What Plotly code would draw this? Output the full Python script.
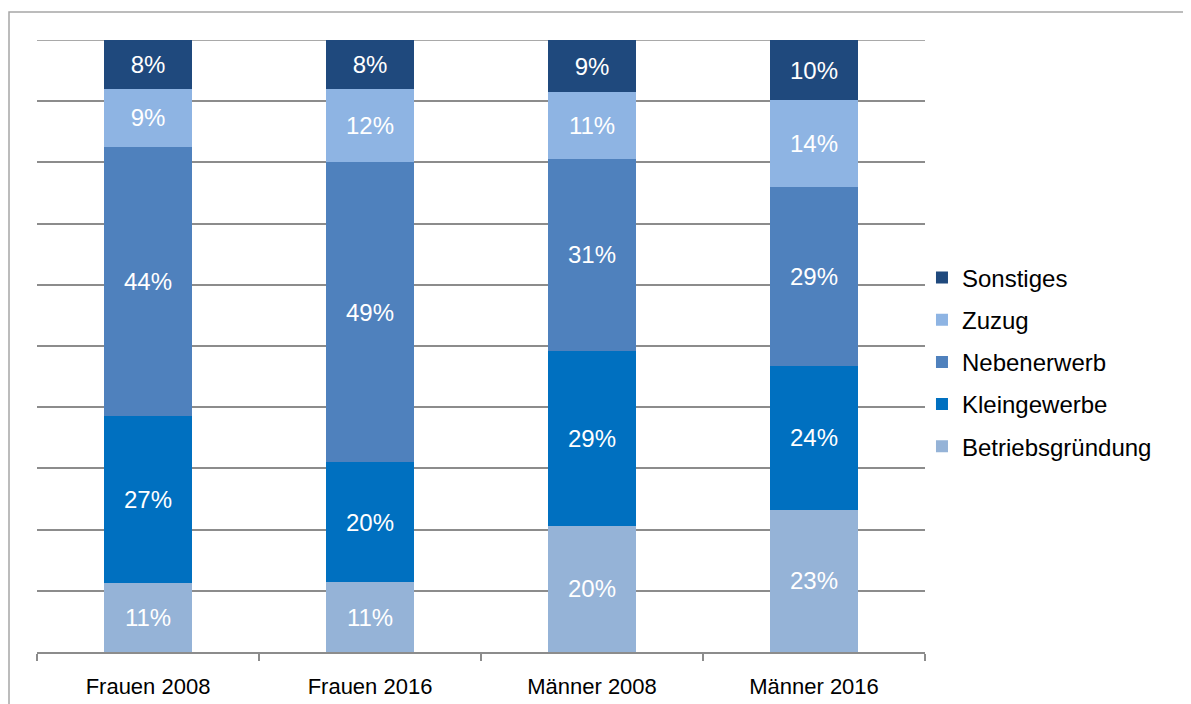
import plotly.graph_objects as go

categories = ["Frauen 2008", "Frauen 2016", "Männer 2008", "Männer 2016"]
series_names = ["Betriebsgründung", "Kleingewerbe", "Nebenerwerb", "Zuzug", "Sonstiges"]

# segment shares (percent)
betriebsgruendung = [11.3, 11.4, 20.6, 23.2]
kleingewerbe = [27.3, 19.6, 28.6, 23.5]
nebenerwerb = [44.0, 49.0, 31.4, 29.2]
zuzug = [9.5, 11.9, 10.9, 14.2]
sonstiges = [8.0, 8.0, 8.5, 9.8]

# printed data labels
labels_betrieb = ["11%", "11%", "20%", "23%"]
labels_klein = ["27%", "20%", "29%", "24%"]
labels_neben = ["44%", "49%", "31%", "29%"]
labels_zuzug = ["9%", "12%", "11%", "14%"]
labels_sonst = ["8%", "8%", "9%", "10%"]

colors = ["#95B3D7", "#0070C0", "#4F81BD", "#8EB4E3", "#1F497D"]

values = [betriebsgruendung, kleingewerbe, nebenerwerb, zuzug, sonstiges]
labels = [labels_betrieb, labels_klein, labels_neben, labels_zuzug, labels_sonst]

FONT = "Liberation Sans, Arial, sans-serif"

fig = go.Figure()
n = len(series_names)
for i, (name, vals, txt, col) in enumerate(zip(series_names, values, labels, colors)):
    fig.add_trace(go.Bar(
        name=name, legendgroup=name, legendrank=1000 + (n - i),
        x=categories, y=vals, text=txt,
        marker=dict(color=col, line=dict(width=0)),
        textposition="inside", insidetextanchor="middle", textangle=0,
        constraintext="none",
        textfont=dict(family=FONT, size=24, color="white"),
        hoverinfo="x+name+text",
    ))

# page body has an 8px margin: figure is sized/offset to compensate
W, H = 1183, 696
L, T = 29, 32
PW, PH = 888, 612

fig.update_layout(
    barmode="stack", barnorm="percent", bargap=0.604,
    width=W, height=H,
    margin=dict(l=L, r=W - L - PW, t=T, b=H - T - PH, autoexpand=False),
    paper_bgcolor="white", plot_bgcolor="white",
    font=dict(family=FONT, color="black"),
    showlegend=True,
    legend=dict(
        traceorder="grouped", x=0.9966, xanchor="left", y=0.474, yanchor="middle",
        font=dict(family=FONT, size=24, color="black"),
        tracegroupgap=8, bgcolor="rgba(0,0,0,0)",
    ),
    xaxis=dict(
        type="category", showgrid=False, showline=True, linecolor="#8c8c8c", linewidth=1.5,
        ticks="outside", tickson="boundaries", ticklen=7, tickcolor="#8c8c8c", tickwidth=1.5,
        tickfont=dict(family=FONT, size=22, color="black"), ticklabelstandoff=14,
        automargin=False,
    ),
    yaxis=dict(
        range=[0, 100], dtick=10, showgrid=True, gridcolor="#8c8c8c", gridwidth=1.5,
        showticklabels=False, zeroline=False, showline=False, ticks="", automargin=False,
    ),
    shapes=[
        dict(
            type="rect", xref="paper", yref="paper",
            x0=(1 - L) / PW, x1=(W + 10 - L) / PW,
            y0=(T + PH - (H + 10)) / PH, y1=(T + PH - 4) / PH,
            line=dict(color="#a6a6a6", width=1.5), fillcolor="rgba(0,0,0,0)", layer="below",
        ),
        dict(
            type="line", xref="paper", yref="y", x0=0, x1=1, y0=100, y1=100,
            line=dict(color="#8c8c8c", width=1.5), layer="below",
        ),
    ],
)

fig.write_html("out.html")
